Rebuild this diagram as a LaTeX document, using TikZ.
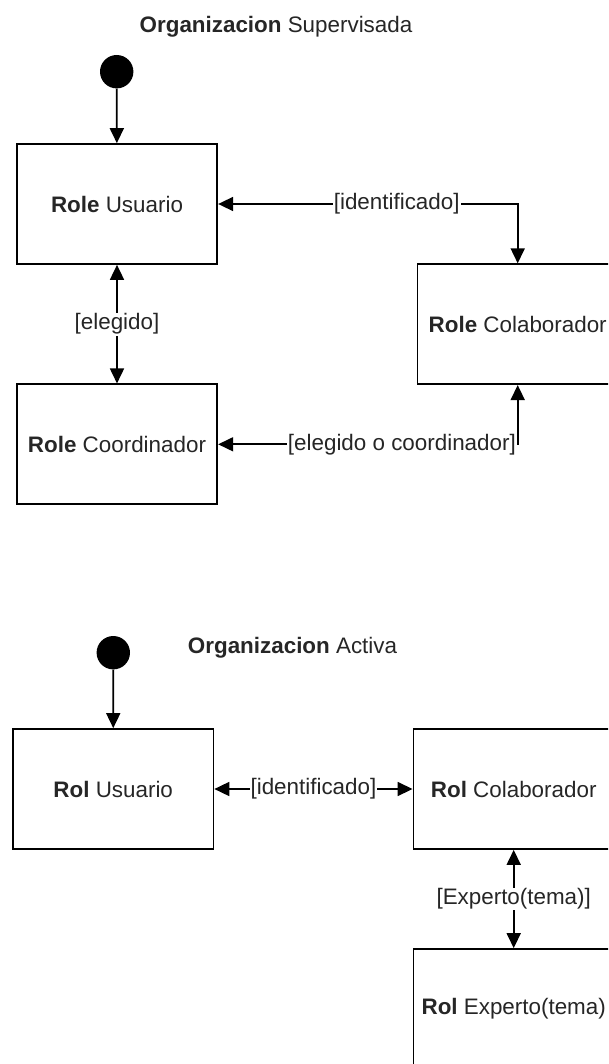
\documentclass[tikz,border=0pt]{standalone}
\usepackage{fontspec}
\setmainfont{Liberation Sans}
\usetikzlibrary{arrows.meta}
\begin{document}
\begin{tikzpicture}[x=1pt,y=-1pt,
  every node/.style={font=\fontsize{22.4}{26}\selectfont, text=black!85},
  state/.style={draw=black, line width=1.7pt, minimum width=200.6pt, minimum height=120pt, inner sep=0pt},
  start/.style={circle, fill=black, minimum size=33.4pt, inner sep=0pt},
  flow/.style={line width=1.7pt, -{Triangle[length=15pt,width=14pt]}},
  both/.style={line width=1.7pt, {Triangle[length=15pt,width=14pt]}-{Triangle[length=15pt,width=14pt]}},
  guard/.style={fill=white, inner sep=1pt}
]
\clip (0,0) rectangle (608,1064);

% Organizacion Supervisada
\node (t1) at (276,27) {\textbf{Organizacion} Supervisada};
\node[start] (i1) at (116.7,71.7) {};
\node[state] (su) at (117,204) {\textbf{Role} Usuario};
\node[state] (sc) at (517.7,324.2) {\textbf{Role} Colaborador};
\node[state] (sco) at (117,444.3) {\textbf{Role} Coordinador};

\draw[flow] (i1) -- (su);
\draw[both] (su.east) -| node[guard,pos=0.298]{[identificado]} (sc.north);
\draw[both] (su) -- node[guard]{[elegido]} (sco);
\draw[both] (sco.east) -| node[guard,pos=0.5,anchor=east]{[elegido o coordinador]} (sc.south);

% Organizacion Activa
\node (t2) at (292.5,648) {\textbf{Organizacion} Activa};
\node[start] (i2) at (113.3,652.7) {};
\node[state] (au) at (113.2,789) {\textbf{Rol} Usuario};
\node[state] (ac) at (513.7,789) {\textbf{Rol} Colaborador};
\node[state] (ae) at (513.7,1009) {\textbf{Rol} Experto(tema)};

\draw[flow] (i2) -- (au);
\draw[both] (au) -- node[guard]{[identificado]} (ac);
\draw[both] (ac) -- node[guard]{[Experto(tema)]} (ae);
\end{tikzpicture}
\end{document}
